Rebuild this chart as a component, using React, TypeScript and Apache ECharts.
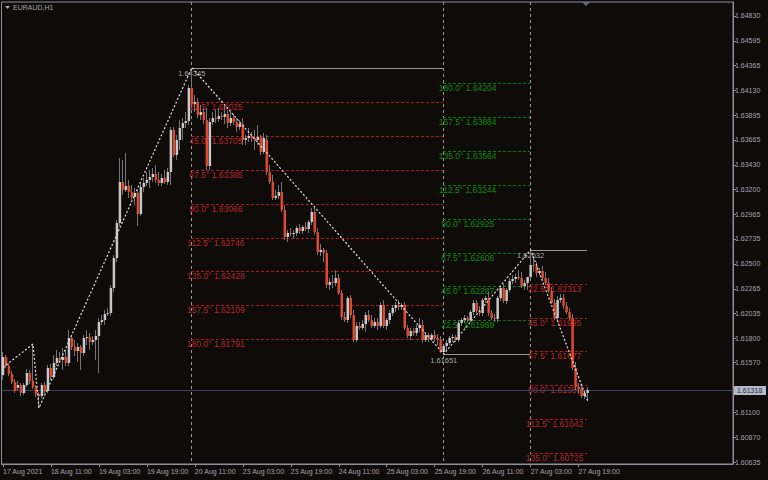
import { useEffect, useRef } from 'react';
import * as echarts from 'echarts';

const FONT = '"Liberation Sans", Arial, sans-serif';
const BG = '#0e0b09';
const AX = '#8e8e9e';
const TXT = '#a4a4b0';
const BULL = '#c8c8c8';
const BEAR = '#e04a2c';
const WICK = '#74747e';
const ZZ = '#e2e2e2';
const VLINE = '#969696';
const PIV_LINE = '#9a9a9a';
const PIV_TXT = '#a8a8a8';
const RED_LINE = '#a81d1d';
const RED_TXT = '#b42828';
const GREEN_LINE = '#0b7a0b';
const GREEN_TXT = '#0e8c0e';
const PRICE_LINE = '#3e3e6a';
const PRICE_BOX = '#b4b8c8';
const PRICE_BOX_TXT = '#2a2a3a';

const tickLabels = ['17 Aug 2021', '18 Aug 11:00', '19 Aug 03:00', '19 Aug 19:00', '20 Aug 11:00', '23 Aug 03:00', '23 Aug 19:00', '24 Aug 11:00', '25 Aug 03:00', '25 Aug 19:00', '26 Aug 11:00', '27 Aug 03:00', '27 Aug 19:00'];
const priceTicks = [1.6483, 1.64595, 1.64365, 1.6413, 1.63895, 1.63665, 1.6343, 1.632, 1.62965, 1.62735, 1.625, 1.62265, 1.62035, 1.618, 1.6157, 1.611, 1.6087, 1.60635];

const opens = [
  1.61455, 1.61624, 1.6154, 1.61464, 1.61389, 1.61333, 1.61361, 1.61286, 1.61361, 1.61474,
  1.61399, 1.61342, 1.61276, 1.61258, 1.61361, 1.61305, 1.61521, 1.61436, 1.61568, 1.61615,
  1.61596, 1.61624, 1.61568, 1.61803, 1.61718, 1.61681, 1.61718, 1.61662, 1.61803, 1.61812,
  1.61765, 1.61784, 1.61822, 1.61953, 1.61972, 1.62028, 1.62038, 1.62273, 1.62555, 1.62884,
  1.63269, 1.63194, 1.63232, 1.63175, 1.63128, 1.63166, 1.62968, 1.63222, 1.6326, 1.63288,
  1.63316, 1.63344, 1.63288, 1.6326, 1.63307, 1.63269, 1.63363, 1.63758, 1.63523, 1.63664,
  1.63777, 1.63824, 1.63843, 1.64153, 1.64002, 1.64021, 1.63899, 1.63927, 1.63852, 1.6342,
  1.63833, 1.63871, 1.63861, 1.6389, 1.6388, 1.63908, 1.63824, 1.63871, 1.63833, 1.63786,
  1.63814, 1.63664, 1.63683, 1.63702, 1.63683, 1.63664, 1.63692, 1.63551, 1.63664, 1.63363,
  1.63269, 1.63119, 1.63138, 1.63175, 1.63006, 1.62752, 1.6279, 1.6278, 1.6279, 1.62837,
  1.62809, 1.62846, 1.62827, 1.62893, 1.62987, 1.62799, 1.62611, 1.6263, 1.62602, 1.62301,
  1.62329, 1.6232, 1.62367, 1.62226, 1.62, 1.61972, 1.62179, 1.62019, 1.61784, 1.61916,
  1.61897, 1.61934, 1.62019, 1.61972, 1.61916, 1.61953, 1.61916, 1.62113, 1.61916, 1.61972,
  1.62038, 1.62085, 1.62113, 1.62094, 1.62113, 1.61897, 1.61822, 1.61869, 1.6185, 1.61897,
  1.61925, 1.61784, 1.61831, 1.61793, 1.61831, 1.61803, 1.61784, 1.61671, 1.61728, 1.61756,
  1.61803, 1.61812, 1.61784, 1.61944, 1.61972, 1.61991, 1.61972, 1.62047, 1.62132, 1.62057,
  1.62038, 1.6216, 1.62179, 1.62038, 1.61991, 1.61981, 1.62179, 1.62273, 1.62151, 1.62254,
  1.62339, 1.62357, 1.62376, 1.62367, 1.62292, 1.6232, 1.62376, 1.62489, 1.6248, 1.62414,
  1.62433, 1.62367, 1.6232, 1.62245, 1.62132, 1.61991, 1.6216, 1.62179, 1.62104, 1.62047,
  1.61991, 1.61521, 1.61342, 1.61323, 1.61258, 1.61286,
];
const highs = [
  1.61671, 1.61643, 1.61568, 1.61493, 1.61417, 1.61399, 1.6138, 1.6138, 1.61511, 1.61502,
  1.61746, 1.61361, 1.61295, 1.6138, 1.61389, 1.61549, 1.61558, 1.61643, 1.6169, 1.61671,
  1.61709, 1.6169, 1.61878, 1.61831, 1.61784, 1.61756, 1.61737, 1.61831, 1.61878, 1.6185,
  1.61822, 1.61878, 1.61991, 1.62019, 1.62066, 1.62085, 1.62301, 1.62583, 1.62912, 1.63495,
  1.63476, 1.63542, 1.63288, 1.63241, 1.63213, 1.63194, 1.6326, 1.63307, 1.63363, 1.63382,
  1.63401, 1.63429, 1.63363, 1.63344, 1.63382, 1.63401, 1.63786, 1.63786, 1.63711, 1.63852,
  1.63871, 1.63927, 1.64181, 1.64345, 1.64087, 1.64059, 1.63993, 1.63965, 1.63965, 1.63871,
  1.63927, 1.63946, 1.63965, 1.63927, 1.63984, 1.63946, 1.63927, 1.63908, 1.63871, 1.63852,
  1.63871, 1.63711, 1.63777, 1.63739, 1.63758, 1.63805, 1.63711, 1.6373, 1.63711, 1.63429,
  1.63335, 1.63194, 1.63241, 1.63269, 1.63053, 1.62818, 1.62837, 1.62818, 1.62856, 1.62874,
  1.62865, 1.62893, 1.62912, 1.63025, 1.63025, 1.62837, 1.62686, 1.62649, 1.6263, 1.62367,
  1.62395, 1.62442, 1.62404, 1.62254, 1.62047, 1.62198, 1.62207, 1.62066, 1.61953, 1.61953,
  1.61972, 1.62047, 1.62066, 1.62019, 1.61991, 1.61991, 1.62141, 1.6216, 1.61991, 1.62066,
  1.62113, 1.62141, 1.6216, 1.62132, 1.62141, 1.61925, 1.61897, 1.61897, 1.61925, 1.61991,
  1.61972, 1.61859, 1.6185, 1.6185, 1.61878, 1.6184, 1.61822, 1.61737, 1.61784, 1.61822,
  1.6184, 1.61831, 1.61972, 1.61991, 1.62019, 1.6201, 1.62066, 1.6216, 1.6216, 1.62104,
  1.62179, 1.62198, 1.62235, 1.62066, 1.62028, 1.62198, 1.62292, 1.6231, 1.62273, 1.62367,
  1.62395, 1.62404, 1.62442, 1.62423, 1.62348, 1.62367, 1.62632, 1.62555, 1.62517, 1.62461,
  1.6248, 1.62423, 1.62367, 1.62282, 1.62169, 1.62198, 1.62216, 1.62216, 1.62141, 1.62085,
  1.62028, 1.61577, 1.6138, 1.61352, 1.61314, 1.61342,
];
const lows = [
  1.61408, 1.61521, 1.61446, 1.6137, 1.61286, 1.61314, 1.61258, 1.61267, 1.61342, 1.6137,
  1.61323, 1.61248, 1.61145, 1.61239, 1.61286, 1.61286, 1.61408, 1.61417, 1.6154, 1.61568,
  1.61502, 1.6154, 1.6154, 1.6169, 1.61634, 1.61577, 1.61502, 1.61634, 1.61737, 1.6169,
  1.61737, 1.61596, 1.61474, 1.61925, 1.61925, 1.6201, 1.6201, 1.62235, 1.62517, 1.62856,
  1.63147, 1.63175, 1.63119, 1.631, 1.63053, 1.62856, 1.6295, 1.63175, 1.63232, 1.63213,
  1.63269, 1.6326, 1.63232, 1.63232, 1.6325, 1.63241, 1.63241, 1.63504, 1.63476, 1.6357,
  1.63664, 1.63777, 1.63805, 1.63965, 1.63927, 1.63871, 1.63852, 1.63814, 1.63382, 1.63382,
  1.63805, 1.63824, 1.63833, 1.63852, 1.63814, 1.63777, 1.63796, 1.63805, 1.63739, 1.63758,
  1.63617, 1.63617, 1.63645, 1.63645, 1.6357, 1.63617, 1.63523, 1.63532, 1.63335, 1.6325,
  1.631, 1.631, 1.63109, 1.62987, 1.62724, 1.62705, 1.62762, 1.62743, 1.62762, 1.6278,
  1.6278, 1.62809, 1.6279, 1.62865, 1.62771, 1.62583, 1.62574, 1.62517, 1.62273, 1.62254,
  1.62273, 1.62292, 1.62207, 1.61972, 1.61953, 1.61944, 1.61991, 1.61765, 1.61765, 1.61878,
  1.61878, 1.61859, 1.61953, 1.61897, 1.61897, 1.61878, 1.61897, 1.61897, 1.61878, 1.61934,
  1.6201, 1.62047, 1.62066, 1.62066, 1.61878, 1.61803, 1.61784, 1.61822, 1.61822, 1.61859,
  1.61756, 1.61765, 1.61765, 1.61775, 1.61765, 1.61737, 1.61665, 1.61651, 1.6169, 1.61737,
  1.61765, 1.61765, 1.61765, 1.61916, 1.61944, 1.61953, 1.61953, 1.62019, 1.62038, 1.6201,
  1.6201, 1.62132, 1.6201, 1.61972, 1.61953, 1.61953, 1.62151, 1.62132, 1.62122, 1.62235,
  1.6231, 1.6232, 1.62348, 1.62273, 1.62254, 1.62254, 1.62357, 1.62423, 1.62376, 1.62395,
  1.62348, 1.62301, 1.62226, 1.62122, 1.61972, 1.61972, 1.62132, 1.62075, 1.62028, 1.61972,
  1.61502, 1.61314, 1.61276, 1.61239, 1.6123, 1.61211,
];
const closes = [
  1.61624, 1.6154, 1.61464, 1.61389, 1.61305, 1.61361, 1.61286, 1.61361, 1.61474, 1.61399,
  1.61342, 1.61276, 1.61258, 1.61361, 1.61305, 1.61521, 1.61436, 1.61568, 1.61615, 1.61596,
  1.61624, 1.61568, 1.61803, 1.61718, 1.61681, 1.61718, 1.61662, 1.61803, 1.61812, 1.61765,
  1.61784, 1.61822, 1.61953, 1.61972, 1.62028, 1.62038, 1.62273, 1.62555, 1.62884, 1.63269,
  1.63194, 1.63232, 1.63175, 1.63128, 1.63166, 1.62968, 1.63222, 1.6326, 1.63288, 1.63316,
  1.63344, 1.63288, 1.6326, 1.63307, 1.63269, 1.63363, 1.63758, 1.63523, 1.63664, 1.63777,
  1.63824, 1.63843, 1.64153, 1.64002, 1.64021, 1.63899, 1.63927, 1.63852, 1.6342, 1.63833,
  1.63871, 1.63861, 1.6389, 1.6388, 1.63908, 1.63824, 1.63871, 1.63833, 1.63786, 1.63814,
  1.63664, 1.63683, 1.63702, 1.63683, 1.63664, 1.63692, 1.63551, 1.63683, 1.63363, 1.63269,
  1.63119, 1.63138, 1.63175, 1.63006, 1.62752, 1.6279, 1.6278, 1.6279, 1.62837, 1.62809,
  1.62846, 1.62827, 1.62893, 1.62987, 1.62799, 1.62611, 1.6263, 1.62602, 1.62301, 1.62329,
  1.6232, 1.62367, 1.62226, 1.62, 1.61972, 1.62179, 1.62019, 1.61784, 1.61916, 1.61897,
  1.61934, 1.62019, 1.61972, 1.61916, 1.61953, 1.61916, 1.62113, 1.61916, 1.61972, 1.62038,
  1.62085, 1.62113, 1.62094, 1.62113, 1.61897, 1.61822, 1.61869, 1.6185, 1.61897, 1.61925,
  1.61784, 1.61831, 1.61793, 1.61831, 1.61803, 1.61784, 1.61671, 1.61728, 1.61756, 1.61803,
  1.61812, 1.61784, 1.61944, 1.61972, 1.61991, 1.61972, 1.62047, 1.62132, 1.62057, 1.62038,
  1.6216, 1.62179, 1.62038, 1.61991, 1.61981, 1.62179, 1.62273, 1.62151, 1.62254, 1.62339,
  1.62357, 1.62376, 1.62367, 1.62292, 1.6232, 1.62376, 1.62489, 1.6248, 1.62414, 1.62433,
  1.62367, 1.6232, 1.62245, 1.62132, 1.61991, 1.6216, 1.62179, 1.62104, 1.62047, 1.61991,
  1.61521, 1.61342, 1.61323, 1.61258, 1.61286, 1.61318,
];

const zigzagIdx = [0, 10, 12, 63, 147, 176, 195];
const zigzagPrice = [1.61526, 1.61746, 1.61145, 1.64345, 1.61651, 1.62632, 1.61211];

const pivotIdx = [63, 147, 176];
const pivotEnd = [147, 176, 195];
const pivotPrice = [1.64345, 1.61651, 1.62632];

const degrees = ['22.5', '45.0', '67.5', '90.0', '112.5', '135.0', '157.5', '180.0'];
const redLevels1 = [1.64025, 1.63705, 1.63385, 1.63066, 1.62746, 1.62428, 1.62109, 1.61791];
const greenLevels = [1.61969, 1.62287, 1.62606, 1.62925, 1.63244, 1.63564, 1.63884, 1.64204];
const redLevels2 = [1.62313, 1.61995, 1.61677, 1.61359, 1.61042, 1.60725];

const lastPrice = 1.61318;
const SLOTS = 244;

export default function App() {
  const ref = useRef<HTMLDivElement>(null);
  useEffect(() => {
    const chart = echarts.init(ref.current!, null, { renderer: 'svg' });
    const cats = Array.from({ length: SLOTS }, (_, i) =>
      i % 16 === 0 && i / 16 < tickLabels.length ? tickLabels[i / 16] : '_' + i);
    const showTick = (i: number) => i % 16 === 0 && i / 16 < tickLabels.length;

    const candleData = opens.map((o, i) => [i, o, closes[i], lows[i], highs[i]]);
    const levelRows: number[][] = [];
    redLevels1.forEach((p, k) => levelRows.push([pivotIdx[0], pivotEnd[0], p, 0, k]));
    greenLevels.forEach((p, k) => levelRows.push([pivotIdx[1], pivotEnd[1], p, 1, k]));
    redLevels2.forEach((p, k) => levelRows.push([pivotIdx[2], pivotEnd[2], p, 2, k]));
    const pivotRows = pivotIdx.map((i, k) => [i, pivotEnd[k], pivotPrice[k]]);

    const option: any = {
      animation: false,
      backgroundColor: BG,
      grid: { left: 1, top: 2, width: 732, height: 462, show: true, borderColor: AX, borderWidth: 1 },
      xAxis: {
        type: 'category', data: cats, boundaryGap: true,
        axisLine: { show: true, lineStyle: { color: AX } },
        axisTick: { show: true, alignWithLabel: true, interval: (i: number) => showTick(i), length: 3, lineStyle: { color: AX } },
        axisLabel: {
          interval: (i: number) => showTick(i), align: 'left', margin: 4, fontSize: 7, color: TXT, fontFamily: FONT,
          formatter: (v: string) => (v.startsWith('_') ? '' : v),
        },
        splitLine: { show: false },
      },
      yAxis: {
        type: 'value', position: 'right', min: 1.60618, max: 1.64961, scale: true,
        axisLine: { show: true, lineStyle: { color: AX } },
        axisTick: { show: true, length: 3, customValues: priceTicks, lineStyle: { color: AX } },
        axisLabel: { customValues: priceTicks, formatter: (v: number) => v.toFixed(5), fontSize: 7, color: TXT, margin: 2, fontFamily: FONT },
        splitLine: { show: false },
      },
      graphic: [
        { type: 'polygon', shape: { points: [[5, 6], [10, 6], [7.5, 9]] }, style: { fill: PIV_TXT } },
        { type: 'text', left: 13, top: 4, style: { text: 'EURAUD,H1', fill: PIV_TXT, font: `7px ${FONT}` } },
        { type: 'polygon', shape: { points: [[582, 2], [590, 2], [586, 6]] }, style: { fill: '#6a6a78' } },
      ],
      series: [
        {
          type: 'custom', name: 'vlines', z: 1, silent: true, clip: false,
          data: pivotRows, encode: { x: 0, y: 2 },
          renderItem: (params: any, api: any) => {
            const cs = params.coordSys;
            const x = Math.floor(api.coord([api.value(0), api.value(2)])[0]) + 0.5;
            return { type: 'line', shape: { x1: x, y1: cs.y, x2: x, y2: cs.y + cs.height }, style: { stroke: VLINE, lineWidth: 1, lineDash: [3, 3] } };
          },
        },
        {
          type: 'custom', name: 'levels', z: 1, silent: true, clip: false,
          data: levelRows, encode: { x: 0, y: 2 },
          renderItem: (params: any, api: any) => {
            const s = api.value(0), e = api.value(1), p = api.value(2), set = api.value(3), k = api.value(4);
            const a = api.coord([s, p]);
            const b = api.coord([e, p]);
            const y = Math.round(a[1]) + 0.5;
            const red = set !== 1;
            const lbl = api.coord([s + 8, p]);
            return {
              type: 'group', children: [
                { type: 'line', shape: { x1: Math.floor(a[0]), y1: y, x2: Math.floor(b[0]), y2: y }, style: { stroke: red ? RED_LINE : GREEN_LINE, lineWidth: 1, lineDash: [3, 2] } },
                { type: 'text', x: lbl[0], y: a[1] + 5, style: { text: `${degrees[k]}° ${p.toFixed(5)}`, fill: red ? RED_TXT : GREEN_TXT, font: `8.5px ${FONT}`, align: 'center', verticalAlign: 'middle' } },
              ],
            };
          },
        },
        {
          type: 'custom', name: 'pivots', z: 1, silent: true, clip: false,
          data: pivotRows, encode: { x: 0, y: 2 },
          renderItem: (params: any, api: any) => {
            const s = api.value(0), e = api.value(1), p = api.value(2);
            const a = api.coord([s, p]);
            const b = api.coord([e, p]);
            const y = Math.round(a[1]) + 0.5;
            return {
              type: 'group', children: [
                { type: 'line', shape: { x1: Math.floor(a[0]), y1: y, x2: Math.floor(b[0]), y2: y }, style: { stroke: PIV_LINE, lineWidth: 1 } },
                { type: 'text', x: a[0], y: a[1] + 6, style: { text: p.toFixed(5), fill: PIV_TXT, font: `7.5px ${FONT}`, align: 'center', verticalAlign: 'middle' } },
              ],
            };
          },
        },
        {
          type: 'custom', name: 'price', z: 1, silent: true, clip: false,
          data: [[opens.length - 1, lastPrice]], encode: { x: 0, y: 1 },
          renderItem: (params: any, api: any) => {
            const cs = params.coordSys;
            const p = api.value(1);
            const yy = api.coord([api.value(0), p])[1];
            const y = Math.round(yy) + 0.5;
            return {
              type: 'group', children: [
                { type: 'line', shape: { x1: cs.x, y1: y, x2: cs.x + cs.width, y2: y }, style: { stroke: PRICE_LINE, lineWidth: 1 } },
                { type: 'rect', shape: { x: cs.x + cs.width + 1, y: Math.round(yy) - 4, width: 32, height: 9 }, style: { fill: PRICE_BOX } },
                { type: 'text', x: cs.x + cs.width + 4, y: Math.round(yy) + 0.5, style: { text: p.toFixed(5), fill: PRICE_BOX_TXT, font: `7px ${FONT}`, align: 'left', verticalAlign: 'middle' } },
              ],
            };
          },
        },
        {
          type: 'custom', name: 'candles', z: 2, silent: true,
          data: candleData, encode: { x: 0, y: [1, 2, 3, 4] },
          renderItem: (params: any, api: any) => {
            const i = api.value(0);
            const o = api.value(1), c = api.value(2), l = api.value(3), h = api.value(4);
            const po = api.coord([i, o]);
            const yc = api.coord([i, c])[1];
            const yl = api.coord([i, l])[1];
            const yh = api.coord([i, h])[1];
            const cx = po[0];
            const col = Math.floor(cx);
            const top = Math.round(Math.min(po[1], yc));
            const bot = Math.max(Math.round(Math.max(po[1], yc)), top + 1);
            const bull = c >= o;
            return {
              type: 'group', children: [
                { type: 'rect', shape: { x: col, y: Math.round(yh), width: 1, height: Math.max(1, Math.round(yl) - Math.round(yh)) }, style: { fill: WICK } },
                { type: 'rect', shape: { x: cx - 1.25, y: top, width: 2.5, height: bot - top }, style: { fill: bull ? BULL : BEAR } },
              ],
            };
          },
        },
        {
          type: 'line', name: 'zigzag', z: 3, silent: true, symbol: 'none',
          data: zigzagIdx.map((i, k) => [i, zigzagPrice[k]]),
          lineStyle: { color: ZZ, width: 1.2, type: [2, 2] },
        },
      ],
    };
    chart.setOption(option);
    return () => chart.dispose();
  }, []);
  return <div ref={ref} style={{ position: 'fixed', left: 0, top: 0, width: 768, height: 480, background: BG }} />;
}
